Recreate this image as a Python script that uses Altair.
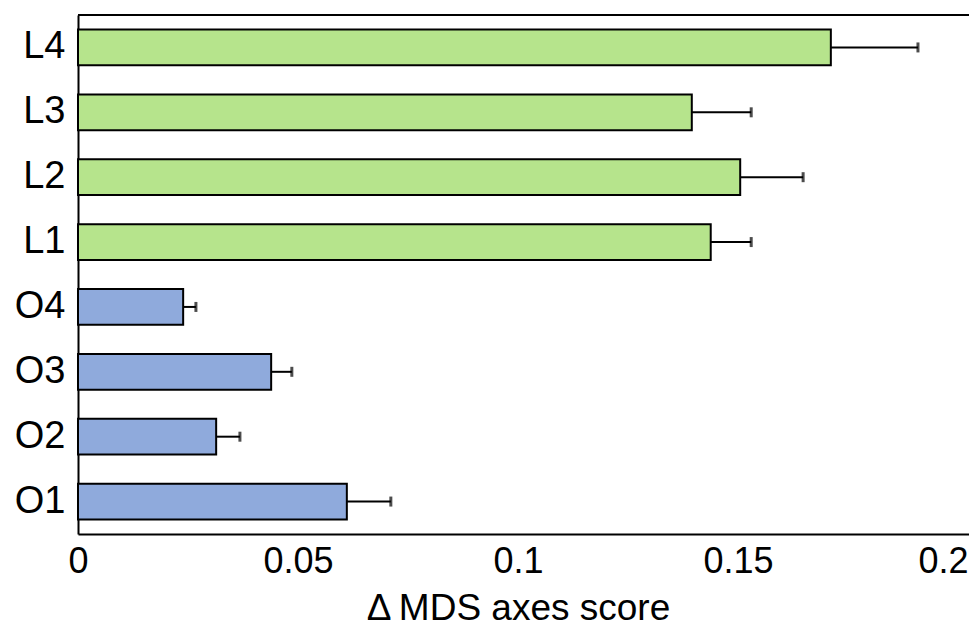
import altair as alt
import pandas as pd

categories = ["L4", "L3", "L2", "L1", "O4", "O3", "O2", "O1"]
groups = ["L", "L", "L", "L", "O", "O", "O", "O"]
values = [0.1711, 0.1395, 0.1505, 0.1438, 0.0239, 0.0439, 0.0314, 0.0611]
errors = [0.0198, 0.0135, 0.0143, 0.0092, 0.0029, 0.0047, 0.0054, 0.0100]
x_ticks = [0, 0.05, 0.1, 0.15, 0.2]

df = pd.DataFrame({"cat": categories, "group": groups, "value": values, "err": errors})
df["upper"] = df["value"] + df["err"]

FONT = "Liberation Sans"
W, H = 891, 519
xscale = alt.Scale(domain=[0, 0.2025], nice=False, zero=True)
yscale = alt.Scale(paddingInner=0.45, paddingOuter=0.225)

base = alt.Chart(df)

bars = base.mark_bar(stroke="black", strokeWidth=2).encode(
    y=alt.Y("cat:N", sort=categories, scale=yscale,
            axis=alt.Axis(title=None, labelFontSize=38, labelPadding=13, ticks=False,
                          domainColor="black", domainWidth=2, labelColor="black",
                          labelFont=FONT)),
    x=alt.X("value:Q", scale=xscale,
            axis=alt.Axis(title="Δ\u2009MDS axes score", values=x_ticks, format="~g",
                          labelFontSize=36, labelFont=FONT, labelColor="black",
                          labelPadding=10, labelFlush=False, ticks=False, grid=False,
                          labelAlign=alt.ExprRef("datum.value >= 0.2 ? 'right' : 'center'"),
                          labelOffset=alt.ExprRef("datum.value >= 0.2 ? 10 : 0"),
                          domainColor="black", domainWidth=2,
                          titleFont=FONT, titleFontSize=37, titleFontWeight="normal",
                          titleColor="black", titleX=440, titleY=85,
                          titleAlign="center", titleBaseline="alphabetic")),
    color=alt.Color("group:N", scale=alt.Scale(domain=["L", "O"], range=["#b6e48c", "#8faadc"]),
                    legend=None),
)

err_line = base.mark_rule(color="black", strokeWidth=2).encode(
    y=alt.Y("cat:N", sort=categories),
    x=alt.X("value:Q"),
    x2="upper:Q",
)

caps = base.mark_tick(color="black", thickness=3, size=10, orient="vertical").encode(
    y=alt.Y("cat:N", sort=categories),
    x=alt.X("upper:Q"),
)

top_line = alt.Chart(pd.DataFrame({"k": [0]})).mark_rule(color="black", strokeWidth=2).encode(
    x=alt.value(0), x2=alt.value(W), y=alt.value(0)
)

chart = alt.layer(bars, err_line, caps, top_line).properties(
    width=W, height=H,
    autosize=alt.AutoSizeParams(type="none"),
    padding={"left": 70, "top": 7, "right": 0, "bottom": 94},
).configure(background="white").configure_view(stroke=None)

chart.save("out.html", embed_options={"renderer": "svg", "actions": False})
